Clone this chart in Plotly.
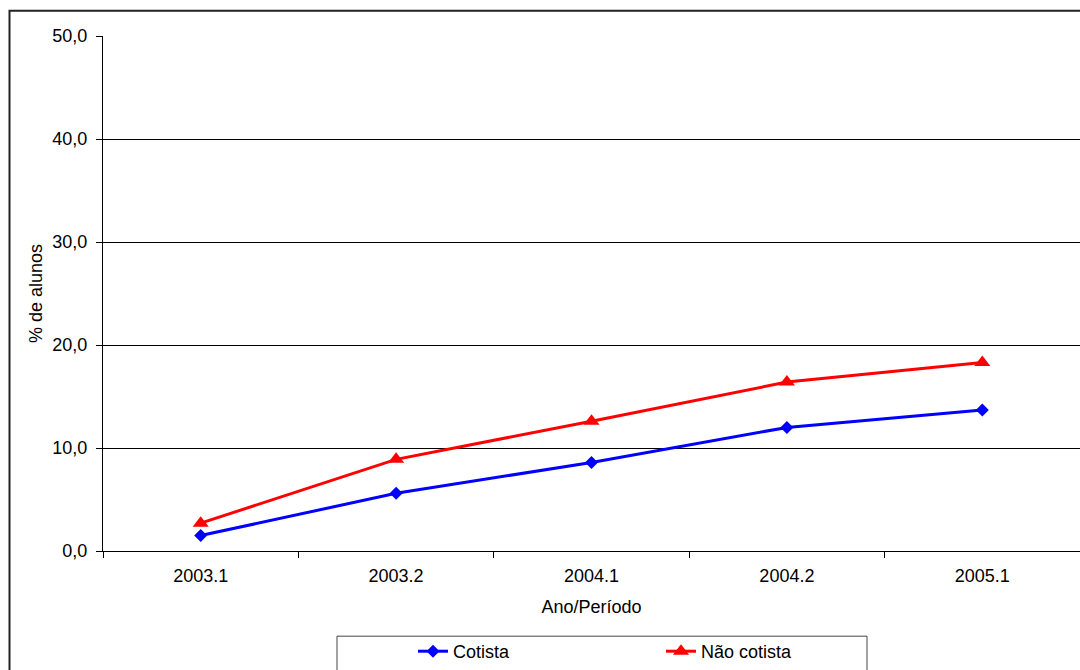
import plotly.graph_objects as go

periods = ["2003.1", "2003.2", "2004.1", "2004.2", "2005.1"]
cotista = [1.5, 5.6, 8.6, 12.0, 13.7]
nao_cotista = [2.7, 8.9, 12.6, 16.4, 18.3]

W, H = 1080, 670
L, R, T, B = 103, 0, 36, 114
pw = W - L - R
ph = H - T - B

def px(x):
    return (x - L) / pw

def py(y):
    return (H - B - y) / ph

FONT = "Liberation Sans, Arial, sans-serif"

fig = go.Figure()
fig.add_trace(go.Scatter(
    x=periods, y=cotista, name="Cotista", mode="lines+markers",
    line=dict(color="#0000FF", width=3),
    marker=dict(symbol="diamond", size=10, color="#0000FF"),
))
fig.add_trace(go.Scatter(
    x=periods, y=nao_cotista, name="Não cotista", mode="lines+markers",
    line=dict(color="#FF0000", width=3),
    marker=dict(symbol="triangle-up", size=14, color="#FF0000"),
))

fig.update_layout(
    width=W, height=H, autosize=False,
    margin=dict(l=L, r=R, t=T, b=B, pad=0),
    paper_bgcolor="white", plot_bgcolor="white",
    separators=",.",
    font=dict(family=FONT, size=18, color="black"),
    showlegend=True,
    legend=dict(
        orientation="h", x=px(413), xanchor="left", y=py(639), yanchor="top",
        bgcolor="rgba(0,0,0,0)", borderwidth=0,
        entrywidth=203, entrywidthmode="pixels",
        font=dict(family=FONT, size=18, color="black"),
    ),
    xaxis=dict(
        type="category", range=[-0.5, 4.5],
        tickson="boundaries", ticks="outside", ticklen=6, tickcolor="black",
        showline=True, linecolor="black", linewidth=1,
        showgrid=False, zeroline=False,
        tickfont=dict(family=FONT, size=18),
        ticklabelstandoff=8,
        title=dict(text="Ano/Período", font=dict(family=FONT, size=18), standoff=15),
    ),
    yaxis=dict(
        range=[0, 50], dtick=10, tickformat=".1f",
        ticks="outside", ticklen=6, tickcolor="black",
        showline=True, linecolor="black", linewidth=1,
        showgrid=True, gridcolor="black", gridwidth=1,
        zeroline=False,
        tickfont=dict(family=FONT, size=18),
        ticklabelstandoff=5,
        title=dict(text="% de alunos", font=dict(family=FONT, size=18), standoff=5),
    ),
    shapes=[
        dict(type="rect", xref="paper", yref="paper",
             x0=px(9.5), x1=1.2, y0=py(10.5), y1=-0.5,
             line=dict(color="#222222", width=2), fillcolor="rgba(0,0,0,0)", layer="above"),
        dict(type="rect", xref="paper", yref="paper",
             x0=px(337), x1=px(867), y0=py(642), y1=-0.5,
             line=dict(color="#444444", width=1), fillcolor="rgba(0,0,0,0)", layer="below"),
    ],
)

fig.write_html(
    "out.html",
    config=dict(displayModeBar=False, responsive=False),
    post_script="document.body.style.margin='0';document.body.style.padding='0';document.body.style.overflow='hidden';",
)
